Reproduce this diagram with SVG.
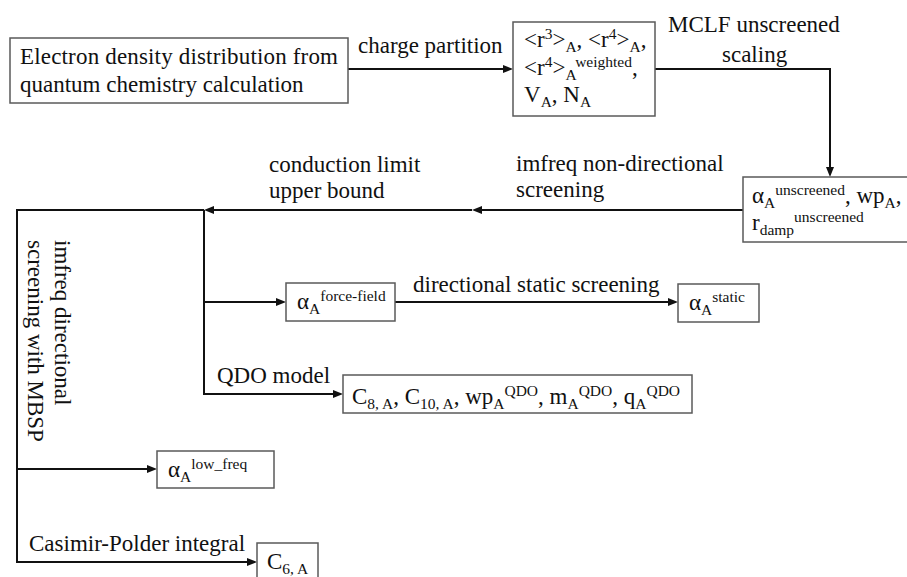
<svg xmlns="http://www.w3.org/2000/svg" width="907" height="577" viewBox="0 0 907 577" font-family="'Liberation Serif', 'DejaVu Serif', serif">
<style>
  text { font-family: 'Liberation Serif', 'DejaVu Serif', serif; font-size: 23px; fill: #111; }
  .s { font-size: 15.5px; }
  .box { fill: #fff; stroke: #5a5a5a; stroke-width: 1.5; }
  .con { fill: none; stroke: #111; stroke-width: 2; }
</style>
<defs>
  <marker id="arr" viewBox="0 0 10 8" markerWidth="10" markerHeight="8" refX="2" refY="4" orient="auto" markerUnits="userSpaceOnUse">
    <path d="M0,0 L10,4 L0,8 z" fill="#111"/>
  </marker>
</defs>
<rect width="907" height="577" fill="#fff"/>

<g id="connectors">
  <path class="con" d="M348,69 H505" marker-end="url(#arr)"/>
  <path class="con" d="M655,69 H830 V169" marker-end="url(#arr)"/>
  <path class="con" d="M743,210 H480" marker-end="url(#arr)"/>
  <path class="con" d="M472,210 H212" marker-end="url(#arr)"/>
  <path class="con" d="M204,210 H17 V562 H249" marker-end="url(#arr)"/>
  <path class="con" d="M204,210 V394 H335" marker-end="url(#arr)"/>
  <path class="con" d="M204,302 H278" marker-end="url(#arr)"/>
  <path class="con" d="M395,302 H670" marker-end="url(#arr)"/>
  <path class="con" d="M17,469 H149" marker-end="url(#arr)"/>
</g>

<g id="edge-labels">
  <text x="358" y="53">charge partition</text>
  <text x="668" y="32">MCLF unscreened</text>
  <text x="722" y="62">scaling</text>
  <text x="516" y="171">imfreq non-directional</text>
  <text x="516" y="197">screening</text>
  <text x="269" y="172">conduction limit</text>
  <text x="269" y="198">upper bound</text>
  <text x="413" y="292">directional static screening</text>
  <text x="217" y="383">QDO model</text>
  <text x="29" y="551">Casimir-Polder integral</text>
  <text transform="translate(55,240) rotate(90)">imfreq directional</text>
  <text transform="translate(28,240) rotate(90)">screening with MBSP</text>
</g>

<g id="node-electron-density">
  <rect class="box" x="10" y="38" width="338" height="65"/>
  <text x="20" y="64" textLength="318" lengthAdjust="spacing">Electron density distribution from</text>
  <text x="20" y="92">quantum chemistry calculation</text>
</g>

<g id="node-moments">
  <rect class="box" x="513" y="22" width="142" height="94"/>
  <text x="524" y="47">&lt;r<tspan class="s" dy="-8">3</tspan><tspan dy="8">&gt;</tspan><tspan class="s" dy="5">A</tspan><tspan dy="-5">, &lt;r</tspan><tspan class="s" dy="-8">4</tspan><tspan dy="8">&gt;</tspan><tspan class="s" dy="5">A</tspan><tspan dy="-5">,</tspan></text>
  <text x="524" y="75">&lt;r<tspan class="s" dy="-8">4</tspan><tspan dy="8">&gt;</tspan><tspan class="s" dy="5">A</tspan><tspan class="s" dy="-13">weighted</tspan><tspan dy="8">,</tspan></text>
  <text x="524" y="102">V<tspan class="s" dy="5">A</tspan><tspan dy="-5">, N</tspan><tspan class="s" dy="5">A</tspan></text>
</g>

<g id="node-unscreened">
  <rect class="box" x="743" y="177" width="175" height="65"/>
  <text x="752" y="203">α<tspan class="s" dy="5">A</tspan><tspan class="s" dy="-13">unscreened</tspan><tspan dy="8">, wp</tspan><tspan class="s" dy="5">A</tspan><tspan dy="-5">,</tspan></text>
  <text x="752" y="230">r<tspan class="s" dy="5">damp</tspan><tspan class="s" dy="-13">unscreened</tspan></text>
</g>

<g id="node-force-field">
  <rect class="box" x="286" y="283" width="109" height="38"/>
  <text x="297" y="309">α<tspan class="s" dy="5">A</tspan><tspan class="s" dy="-13">force-field</tspan></text>
</g>

<g id="node-static">
  <rect class="box" x="678" y="284" width="81" height="38"/>
  <text x="689" y="310">α<tspan class="s" dy="5">A</tspan><tspan class="s" dy="-13">static</tspan></text>
</g>

<g id="node-qdo">
  <rect class="box" x="343" y="375" width="349" height="38"/>
  <text x="352" y="404">C<tspan class="s" dy="5">8, A</tspan><tspan dy="-5">, C</tspan><tspan class="s" dy="5">10, A</tspan><tspan dy="-5">, wp</tspan><tspan class="s" dy="5">A</tspan><tspan class="s" dy="-13">QDO</tspan><tspan dy="8">, m</tspan><tspan class="s" dy="5">A</tspan><tspan class="s" dy="-13">QDO</tspan><tspan dy="8">, q</tspan><tspan class="s" dy="5">A</tspan><tspan class="s" dy="-13">QDO</tspan></text>
</g>

<g id="node-low-freq">
  <rect class="box" x="157" y="451" width="117" height="37"/>
  <text x="168" y="477">α<tspan class="s" dy="5">A</tspan><tspan class="s" dy="-13">low_freq</tspan></text>
</g>

<g id="node-c6">
  <rect class="box" x="257" y="543" width="61" height="42"/>
  <text x="267" y="569">C<tspan class="s" dy="5">6, A</tspan></text>
</g>
</svg>
